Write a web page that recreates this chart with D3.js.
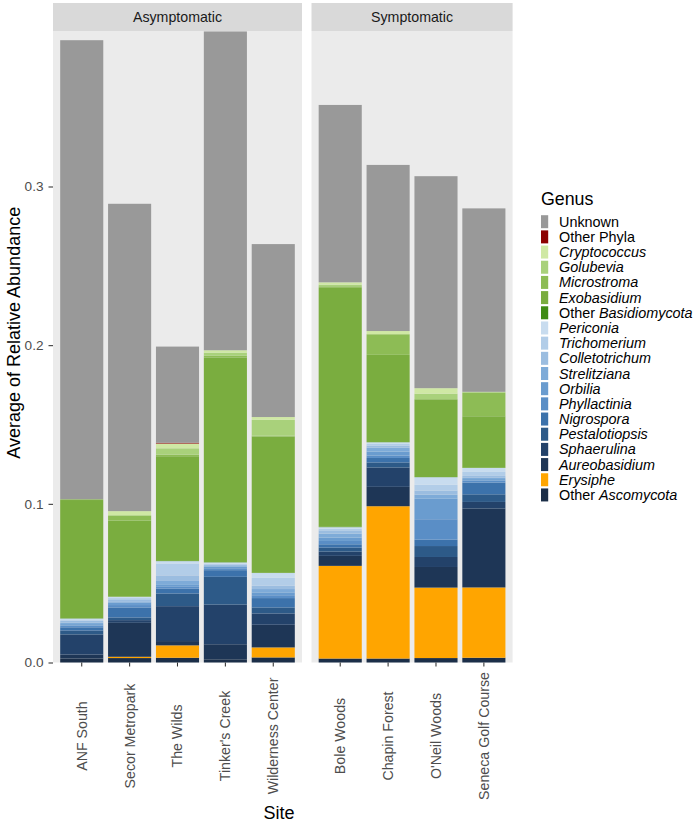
<!DOCTYPE html>
<html>
<head>
<meta charset="utf-8">
<script src="https://cdn.jsdelivr.net/npm/d3@7"></script>
<style>
  body { margin: 0; background: #fff; }
  svg { display: block; font-family: "Liberation Sans", Arial, sans-serif; }
</style>
</head>
<body>
<svg id="chart" width="697" height="822"></svg>
<script>
// sites, in the order they are drawn, and which panel they sit in
const sites = ["ANF South", "Secor Metropark", "The Wilds", "Tinker's Creek", "Wilderness Center",
  "Bole Woods", "Chapin Forest", "O'Neil Woods", "Seneca Golf Course"]
const siteGroup = ["Asymptomatic", "Asymptomatic", "Asymptomatic", "Asymptomatic", "Asymptomatic",
  "Symptomatic", "Symptomatic", "Symptomatic", "Symptomatic"]
const groups = ["Asymptomatic", "Symptomatic"]

// stack order, bottom -> top
const genera = ["Other Ascomycota", "Erysiphe", "Aureobasidium", "Sphaerulina", "Pestalotiopsis",
  "Nigrospora", "Phyllactinia", "Orbilia", "Strelitziana", "Colletotrichum", "Trichomerium",
  "Periconia", "Other Basidiomycota", "Exobasidium", "Microstroma", "Golubevia", "Cryptococcus",
  "Other Phyla", "Unknown"]
const genusColors = ["#1b2e48", "#ffa500", "#1e3656", "#23426a", "#2d5a88", "#3c72ab", "#5a8ec6",
  "#6a9ccf", "#7eabd8", "#9bbde0", "#b2cde8", "#c8dcef", "#3f8b14", "#7aad3f", "#8dbc55",
  "#a9d17b", "#cfe8a4", "#8b0000", "#999999"]

// average relative abundance per site (same order as sites)
const otherAscomycota = [0.0025, 0.0028, 0.0030, 0.0020, 0.0032, 0.0025, 0.0025, 0.0028, 0.0030]
const erysiphe = [0.0000, 0.0008, 0.0078, 0.0000, 0.0063, 0.0584, 0.0960, 0.0444, 0.0443]
const aureobasidium = [0.0025, 0.0214, 0.0027, 0.0095, 0.0143, 0.0063, 0.0122, 0.0130, 0.0497]
const sphaerulina = [0.0127, 0.0017, 0.0220, 0.0250, 0.0071, 0.0027, 0.0122, 0.0063, 0.0042]
const pestalotiopsis = [0.0025, 0.0017, 0.0080, 0.0175, 0.0038, 0.0025, 0.0032, 0.0069, 0.0048]
const nigrospora = [0.0020, 0.0063, 0.0030, 0.0042, 0.0059, 0.0021, 0.0028, 0.0040, 0.0074]
const phyllactinia = [0.0010, 0.0015, 0.0012, 0.0012, 0.0018, 0.0021, 0.0015, 0.0129, 0.0012]
const orbilia = [0.0010, 0.0015, 0.0012, 0.0008, 0.0018, 0.0021, 0.0025, 0.0129, 0.0010]
const strelitziana = [0.0010, 0.0005, 0.0025, 0.0005, 0.0021, 0.0025, 0.0025, 0.0026, 0.0010]
const colletotrichum = [0.0010, 0.0012, 0.0035, 0.0008, 0.0021, 0.0021, 0.0012, 0.0026, 0.0010]
const trichomerium = [0.0005, 0.0012, 0.0075, 0.0008, 0.0050, 0.0010, 0.0012, 0.0036, 0.0025]
const periconia = [0.0010, 0.0008, 0.0015, 0.0008, 0.0030, 0.0010, 0.0010, 0.0048, 0.0025]
const otherBasidiomycota = [0.0002, 0.0001, 0.0001, 0.0002, 0.0001, 0.0002, 0.0001, 0.0001, 0.0001]
const exobasidium = [0.0745, 0.0479, 0.0660, 0.1290, 0.0859, 0.1506, 0.0550, 0.0490, 0.0325]
const microstroma = [0.0005, 0.0030, 0.0010, 0.0010, 0.0005, 0.0010, 0.0130, 0.0000, 0.0149]
const golubevia = [0.0000, 0.0005, 0.0040, 0.0020, 0.0101, 0.0010, 0.0000, 0.0035, 0.0005]
const cryptococcus = [0.0000, 0.0025, 0.0030, 0.0015, 0.0017, 0.0015, 0.0020, 0.0035, 0.0000]
const otherPhyla = [0.0000, 0.0000, 0.0005, 0.0000, 0.0000, 0.0000, 0.0000, 0.0000, 0.0000]
const unknown = [0.2893, 0.1937, 0.0606, 0.2009, 0.1090, 0.1118, 0.1047, 0.1336, 0.1156]

const seriesValues = [otherAscomycota, erysiphe, aureobasidium, sphaerulina, pestalotiopsis,
  nigrospora, phyllactinia, orbilia, strelitziana, colletotrichum, trichomerium, periconia,
  otherBasidiomycota, exobasidium, microstroma, golubevia, cryptococcus, otherPhyla, unknown]

const yTicks = [0, 0.1, 0.2, 0.3]
const yMax = 0.398

// build table for d3.stack
const table = sites.map((s, i) => {
  const row = { site: s, group: siteGroup[i] }
  genera.forEach((g, j) => { row[g] = seriesValues[j][i] })
  return row
})
const stacked = d3.stack().keys(genera)(table)
const color = d3.scaleOrdinal().domain(genera).range(genusColors)

const svg = d3.select("#chart")
const stripTop = 3, panelTop = 31, panelBottom = 662.5
const plotLeft = 53, plotRight = 512.6, panelGap = 9.5
const labelMid = 736
const unitsPer = groups.map(g => siteGroup.filter(d => d === g).length + 0.2)
const step = (plotRight - plotLeft - panelGap) / d3.sum(unitsPer)

const y = d3.scaleLinear().domain([0, yMax]).range([panelBottom, panelTop])

let x0 = plotLeft
groups.forEach((g, gi) => {
  const w = unitsPer[gi] * step
  const panelSites = sites.filter((s, i) => siteGroup[i] === g)
  const x = d3.scaleBand().domain(panelSites).range([x0, x0 + w]).paddingInner(0.1).paddingOuter(0.15)

  // panel background + strip
  svg.append("rect").attr("x", x0).attr("y", panelTop).attr("width", w)
    .attr("height", panelBottom - panelTop).attr("fill", "#ebebeb")
  svg.append("rect").attr("x", x0).attr("y", stripTop).attr("width", w)
    .attr("height", panelTop - stripTop).attr("fill", "#d9d9d9")
  svg.append("text").attr("x", x0 + w / 2).attr("y", (stripTop + panelTop) / 2)
    .attr("dy", "0.35em").attr("text-anchor", "middle").attr("font-size", 14.2)
    .attr("fill", "#1a1a1a").text(g)

  // bars
  stacked.forEach(layer => {
    svg.append("g").attr("fill", color(layer.key))
      .selectAll("rect")
      .data(layer.filter(d => d.data.group === g))
      .join("rect")
      .attr("x", d => x(d.data.site))
      .attr("width", x.bandwidth())
      .attr("y", d => y(d[1]))
      .attr("height", d => Math.max(0, y(d[0]) - y(d[1])))
  })

  // x axis, labels turned and centred in the label band
  const xAxis = svg.append("g").attr("transform", `translate(0,${panelBottom})`)
    .call(d3.axisBottom(x).tickSize(4).tickPadding(5))
  xAxis.select(".domain").remove()
  xAxis.selectAll(".tick line").attr("stroke", "#333333").attr("stroke-width", 1.07)
  xAxis.selectAll(".tick text")
    .style("font-family", "'Liberation Sans', Arial, sans-serif")
    .style("font-size", "14.2px").attr("fill", "#4d4d4d")
    .attr("text-anchor", "middle")
    .attr("transform", `translate(0,${labelMid - panelBottom}) rotate(-90)`)
    .attr("x", 0).attr("y", 0).attr("dy", "0.35em")

  x0 += w + panelGap
})

// y axis
const yAxis = svg.append("g").attr("transform", `translate(${plotLeft},0)`)
  .call(d3.axisLeft(y).tickValues(yTicks).tickFormat(d3.format(".1f")).tickSize(4.5).tickPadding(5))
yAxis.select(".domain").remove()
yAxis.selectAll(".tick line").attr("stroke", "#333333").attr("stroke-width", 1.07)
yAxis.selectAll(".tick text").style("font-family", "'Liberation Sans', Arial, sans-serif")
  .style("font-size", "13.6px").attr("fill", "#4d4d4d")

// axis titles
svg.append("text").attr("transform", `translate(20,${(stripTop + panelBottom) / 2}) rotate(-90)`)
  .attr("text-anchor", "middle").attr("font-size", 18).attr("fill", "#000").text("Average of Relative Abundance")
svg.append("text").attr("x", 279).attr("y", 819)
  .attr("text-anchor", "middle").attr("font-size", 18).attr("fill", "#000").text("Site")

// legend (top -> bottom is reverse of stack order)
const legend = svg.append("g").attr("transform", "translate(541,0)")
legend.append("text").attr("x", 0).attr("y", 205).attr("font-size", 17.8).attr("fill", "#000").text("Genus")
const legendItems = genera.slice().reverse()
const plain = ["Unknown", "Other Phyla"]
legendItems.forEach((g, i) => {
  const cy = 221.7 + i * 15.18
  legend.append("rect").attr("x", 0).attr("y", cy - 6.5).attr("width", 7.2).attr("height", 13)
    .attr("fill", color(g))
  const t = legend.append("text").attr("x", 18).attr("y", cy).attr("dy", "0.35em")
    .attr("font-size", 14.4).attr("fill", "#000")
  if (plain.includes(g)) {
    t.text(g)
  } else if (g.startsWith("Other ")) {
    t.append("tspan").text("Other ")
    t.append("tspan").attr("font-style", "italic").text(g.slice(6))
  } else {
    t.attr("font-style", "italic").text(g)
  }
})
</script>
</body>
</html>
